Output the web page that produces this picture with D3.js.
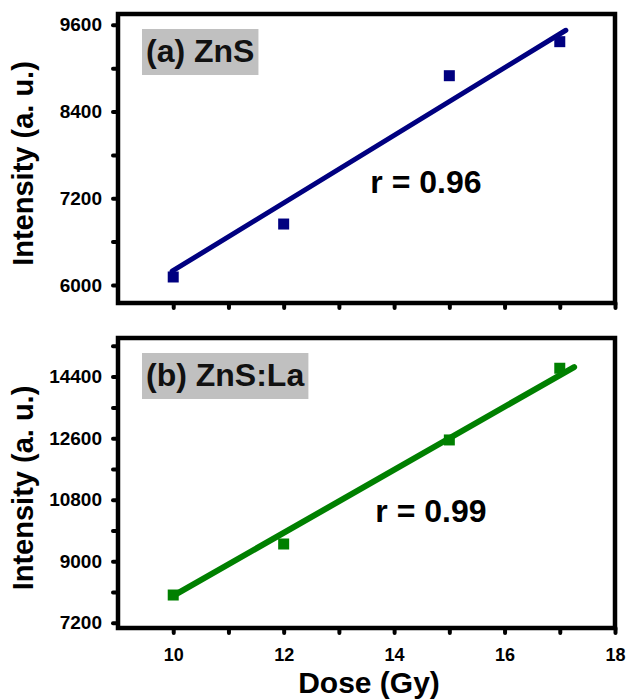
<!DOCTYPE html>
<html>
<head>
  <meta charset="utf-8">
  <script src="https://cdn.jsdelivr.net/npm/d3@7"></script>
  <style>
    body { margin: 0; background: #fff; }
    text { font-family: "Liberation Sans", Arial, sans-serif; font-weight: bold; }
  </style>
</head>
<body>
  <svg width="628" height="699"></svg>

  <script>
    // dose values (Gy)
    const dose = [10, 12, 15, 17];

    // intensities
    const znsIntensity = [6110, 6843, 8896, 9367];
    const znsLaIntensity = [8010, 9503, 12547, 14645];

    // end points of the straight fit lines
    const znsFitDose = [9.98, 17.11];
    const znsFit = [6190, 9525];
    const znsLaFitDose = [9.99, 17.26];
    const znsLaFit = [7975, 14680];

    const xTicks = [10, 11, 12, 13, 14, 15, 16, 17, 18];
    const xLabels = [10, 12, 14, 16, 18];
    const znsYTicks = [6000, 6600, 7200, 7800, 8400, 9000, 9600];
    const znsYLabels = [6000, 7200, 8400, 9600];
    const znsLaYTicks = [7200, 8100, 9000, 9900, 10800, 11700, 12600, 13500, 14400, 15300];
    const znsLaYLabels = [7200, 9000, 10800, 12600, 14400];

    const svg = d3.select("svg");
    const left = 118, right = 615;

    const x = d3.scaleLinear().domain([9, 18]).range([left, right]);

    const panels = [
      {
        top: 14, bottom: 303, yDomain: [5750, 9750],
        values: znsIntensity, fitX: znsFitDose, fit: znsFit, color: "#000080",
        yTicks: znsYTicks, yLabels: znsYLabels, showX: false,
        title: "(a) ZnS", r: "r = 0.96", rAt: [13.57, 7273], lineW: 5
      },
      {
        top: 338, bottom: 628, yDomain: [7045, 15530],
        values: znsLaIntensity, fitX: znsLaFitDose, fit: znsLaFit, color: "#008000",
        yTicks: znsLaYTicks, yLabels: znsLaYLabels, showX: true,
        title: "(b) ZnS:La", r: "r = 0.99", rAt: [13.66, 10160], lineW: 6
      }
    ];

    panels.forEach(p => {
      const y = d3.scaleLinear().domain(p.yDomain).range([p.bottom, p.top]);
      const g = svg.append("g");

      // axes
      const yAxis = g.append("g")
        .attr("transform", `translate(${left},0)`)
        .call(d3.axisLeft(y).tickValues(p.yTicks).tickSize(5).tickPadding(11)
          .tickFormat(d => p.yLabels.includes(d) ? d : ""));
      const xAxis = g.append("g")
        .attr("transform", `translate(0,${p.bottom})`)
        .call(d3.axisBottom(x).tickValues(xTicks).tickSize(5).tickPadding(15)
          .tickFormat(d => p.showX && xLabels.includes(d) ? d : ""));

      [yAxis, xAxis].forEach(a => {
        a.select(".domain").remove();
        a.selectAll(".tick line")
          .attr("stroke", "#000").attr("stroke-width", 4).attr("stroke-linecap", "round");
        a.selectAll(".tick text").attr("fill", "#000");
      });
      yAxis.selectAll(".tick text").style("font-size", "19px");
      xAxis.selectAll(".tick text").style("font-size", "18px");

      // frame
      g.append("rect")
        .attr("x", left).attr("y", p.top)
        .attr("width", right - left).attr("height", p.bottom - p.top)
        .attr("fill", "none").attr("stroke", "#000").attr("stroke-width", 4.5);

      // points
      g.selectAll(".pt")
        .data(dose.map((d, i) => [d, p.values[i]]))
        .enter().append("rect")
        .attr("class", "pt")
        .attr("x", d => x(d[0]) - 5.5)
        .attr("y", d => y(d[1]) - 5.5)
        .attr("width", 11).attr("height", 11)
        .attr("fill", p.color);

      // fit line
      g.append("path")
        .datum(p.fitX.map((d, i) => [d, p.fit[i]]))
        .attr("fill", "none")
        .attr("stroke", p.color)
        .attr("stroke-width", p.lineW)
        .attr("stroke-linecap", "round")
        .attr("d", d3.line().x(d => x(d[0])).y(d => y(d[1])));

      // title box
      const tx = left + 28, ty = p.top + 48;
      const box = g.append("rect").attr("fill", "#c0c0c0");
      const title = g.append("text")
        .attr("x", tx).attr("y", ty)
        .style("font-size", "32px").attr("fill", "#111")
        .text(p.title);
      const bb = title.node().getBBox();
      box.attr("x", bb.x - 4).attr("y", p.top + 15)
        .attr("width", bb.width + 8).attr("height", 46);

      // correlation
      g.append("text")
        .attr("x", x(p.rAt[0])).attr("y", y(p.rAt[1]))
        .style("font-size", "32px").attr("fill", "#000")
        .text(p.r);

      // y label
      g.append("text")
        .attr("transform", `translate(33,${(p.top + p.bottom) / 2 + 5}) rotate(-90)`)
        .attr("text-anchor", "middle")
        .style("font-size", "29px")
        .text("Intensity (a. u.)");
    });

    svg.append("text")
      .attr("x", 369).attr("y", 693)
      .attr("text-anchor", "middle")
      .style("font-size", "30px")
      .text("Dose (Gy)");
  </script>
</body>
</html>
